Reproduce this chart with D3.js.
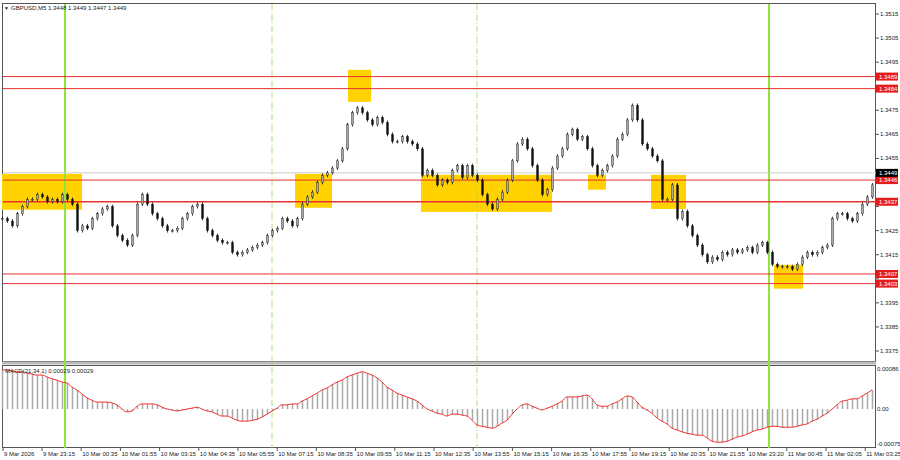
<!DOCTYPE html>
<html><head><meta charset="utf-8">
<script src="https://cdn.jsdelivr.net/npm/d3@7"></script>
<style>
body{margin:0;background:#fff;}
text{font-family:"Liberation Sans",Arial,sans-serif;font-size:6px;fill:#222;}
</style></head>
<body><svg id="chart" width="900" height="460"></svg>
<script>
// closes, one every 5px column
const closes = [1.3430,1.3429,1.3427,1.3432,1.3435,1.3438,1.3438,1.3440,1.3439,1.3437,1.3438,1.3437,1.3440,1.3438,1.3436,1.3425,1.3427,1.3426,1.3430,1.3432,
1.3434,1.3435,1.3427,1.3423,1.3421,1.3419,1.3423,1.3436,1.3440,1.3436,1.3432,1.3430,1.3427,1.3425,1.3425,1.3426,1.3430,1.3432,1.3435,1.3436,
1.3430,1.3425,1.3423,1.3421,1.3420,1.3420,1.3416,1.3415,1.3416,1.3417,1.3418,1.3419,1.3420,1.3423,1.3425,1.3426,1.3430,1.3429,1.3427,1.3430,
1.3436,1.3439,1.3441,1.3445,1.3448,1.3449,1.3451,1.3454,1.3459,1.3469,1.3474,1.3476,1.3474,1.3471,1.3469,1.3472,1.3470,1.3465,1.3462,1.3462,
1.3464,1.3462,1.3461,1.3459,1.3448,1.3450,1.3448,1.3444,1.3446,1.3445,1.3450,1.3452,1.3447,1.3452,1.3448,1.3446,1.3440,1.3436,1.3434,1.3438,
1.3441,1.3446,1.3454,1.3461,1.3463,1.3459,1.3452,1.3446,1.3440,1.3442,1.3451,1.3456,1.3459,1.3465,1.3467,1.3463,1.3464,1.3459,1.3452,1.3448,
1.3450,1.3452,1.3456,1.3463,1.3465,1.3471,1.3477,1.3471,1.3461,1.3459,1.3456,1.3454,1.3438,1.3438,1.3444,1.3430,1.3433,1.3427,1.3423,1.3419,
1.3415,1.3412,1.3414,1.3413,1.3416,1.3415,1.3417,1.3416,1.3417,1.3418,1.3416,1.3419,1.3420,1.3416,1.3411,1.3410,1.3410,1.3410,1.3409,1.3411,
1.3414,1.3416,1.3415,1.3416,1.3418,1.3419,1.3430,1.3432,1.3432,1.3430,1.3429,1.3432,1.3436,1.3439,1.3444];
// MACD main, in 1e-5
const macd = [84,84,82,80,80,77,75,73,73,69,65,62,58,56,47,41,32,24,19,15,
15,15,13,9,0,-6,-4,6,11,11,11,9,4,0,-2,-4,-2,0,2,4,
0,-4,-6,-11,-15,-15,-19,-24,-26,-26,-24,-22,-17,-11,-4,2,9,9,11,11,
17,22,28,34,41,45,52,58,62,69,73,77,80,77,73,67,58,47,41,34,
30,26,22,17,9,0,-4,-9,-11,-15,-11,-11,-13,-15,-24,-34,-37,-39,-41,-37,
-30,-24,-11,0,9,11,6,2,-2,2,6,11,17,26,26,26,28,30,22,9,
6,6,11,15,22,28,26,15,4,-2,-9,-19,-26,-32,-41,-45,-49,-52,-54,-56,
-56,-62,-69,-71,-71,-69,-65,-60,-58,-54,-49,-45,-43,-39,-37,-37,-39,-39,-39,-37,
-34,-32,-26,-22,-15,-9,0,9,17,19,22,22,28,34,41];
const levels = [1.3489,1.3484,1.3446,1.3437,1.3407,1.3403];
const lastPrice = 1.3449;
const priceTicks = [1.3515,1.3505,1.3495,1.3485,1.3475,1.3465,1.3455,1.3445,1.3435,1.3425,1.3415,1.3405,1.3395,1.3385,1.3375];
// zones: [startIdx, endIdx, top price, bottom price]
const zones = [[0,16,1.34486,1.34337],[58.6,66,1.34486,1.34345],[69.2,73.8,1.34918,1.34785],
  [83.8,110,1.34482,1.34328],[117.2,120.8,1.34482,1.3442],[129.8,136.8,1.34482,1.3434],[154.4,160.2,1.34108,1.34009]];
const greenLines = [12.6,153.4];
const dashLines = [54,95];
const timeLabels = ["9 Mar 2026","9 Mar 23:15","10 Mar 00:35","10 Mar 01:55","10 Mar 03:15","10 Mar 04:35","10 Mar 05:55","10 Mar 07:15",
"10 Mar 08:35","10 Mar 09:55","10 Mar 11:15","10 Mar 12:35","10 Mar 13:55","10 Mar 15:15","10 Mar 16:35","10 Mar 17:55","10 Mar 19:15",
"10 Mar 20:35","10 Mar 21:55","10 Mar 23:20","11 Mar 00:45","11 Mar 02:05","11 Mar 03:25"];
const tickIdx = timeLabels.map((d,k)=>k===0?0.2:8+(k-1)*7.84);

const svg = d3.select("#chart");
const x = d3.scaleLinear().domain([0,175]).range([2,877]);
const y = d3.scaleLinear().domain([1.3375,1.3515]).range([351,14]);
const ym = d3.scaleLinear().domain([-75,86]).range([444,369]);

// frames
svg.append("rect").attr("x",2.5).attr("y",3.5).attr("width",873).attr("height",358).attr("fill","none").attr("stroke","#555");
svg.append("rect").attr("x",2.5).attr("y",365.5).attr("width",873).attr("height",82).attr("fill","none").attr("stroke","#555");
svg.append("rect").attr("x",2).attr("y",361.5).attr("width",874).attr("height",3).attr("fill","#bbb");

// zones
svg.selectAll(".zone").data(zones).enter().append("rect")
  .attr("x",d=>x(d[0])).attr("width",d=>x(d[1])-x(d[0]))
  .attr("y",d=>y(d[2])).attr("height",d=>y(d[3])-y(d[2]))
  .attr("fill","#ffd200");

// vertical lines
greenLines.forEach(g=>{
  svg.append("line").attr("x1",x(g)).attr("x2",x(g)).attr("y1",4).attr("y2",448).attr("stroke","#8ee53f").attr("stroke-width",2);
});
dashLines.forEach(g=>{
  svg.append("line").attr("x1",x(g)).attr("x2",x(g)).attr("y1",4).attr("y2",448).attr("stroke","#9ad86a").attr("stroke-width",0.8).attr("stroke-dasharray","6,2,1,2");
});

// current price line
svg.append("line").attr("x1",3).attr("x2",876).attr("y1",y(lastPrice)).attr("y2",y(lastPrice)).attr("stroke","#ccc");

// levels
svg.selectAll(".lvl").data(levels).enter().append("line")
  .attr("x1",3).attr("x2",876).attr("y1",d=>y(d)).attr("y2",d=>y(d))
  .attr("stroke","#e83030").attr("stroke-width",d=>d===1.3437?1.4:1);

// candles
const bars = closes.map((c,i)=>({i:i,o:i?closes[i-1]:c,c:c}));
const cg = svg.append("g");
bars.forEach(b=>{
  const hi = Math.max(b.o,b.c)+0.00008, lo = Math.min(b.o,b.c)-0.00008;
  const col = b.c>=b.o ? "#aaa" : "#111";
  cg.append("line").attr("x1",x(b.i)+0.5).attr("x2",x(b.i)+0.5).attr("y1",y(hi)).attr("y2",y(lo)).attr("stroke","#111").attr("stroke-width",0.8);
  cg.append("rect").attr("x",x(b.i)-0.5).attr("width",2)
    .attr("y",y(Math.max(b.o,b.c))).attr("height",Math.max(1,Math.abs(y(b.o)-y(b.c))))
    .attr("fill",col).attr("stroke","#111").attr("stroke-width",0.4);
});

// price axis
const labs = levels.map(v=>({v:v,bg:"#e51c1c"})).concat([{v:lastPrice,bg:"#000"}]);
const shown = priceTicks.filter(t=>labs.every(l=>Math.abs(y(l.v)-y(t))>8));
svg.selectAll(".pt").data(shown).enter().append("text")
  .attr("x",880).attr("y",d=>y(d)+2).text(d=>d.toFixed(4));
svg.selectAll(".ptk").data(priceTicks).enter().append("line")
  .attr("x1",876).attr("x2",879).attr("y1",d=>y(d)).attr("y2",d=>y(d)).attr("stroke","#555");
labs.forEach(l=>{
  svg.append("rect").attr("x",876).attr("y",y(l.v)-4).attr("width",22).attr("height",8).attr("fill",l.bg);
  svg.append("text").attr("x",879).attr("y",y(l.v)+2).style("fill","#fff").text(l.v.toFixed(4));
});

// header
svg.append("text").attr("x",4).attr("y",10).style("font-size","5px").text("\u25BC");
svg.append("text").attr("x",11).attr("y",10).text("GBPUSD,M5  1.3448 1.3449 1.3447 1.3449");

// MACD histogram + signal
svg.append("g").selectAll("line").data(macd).enter().append("line")
  .attr("x1",(d,i)=>x(i)+0.5).attr("x2",(d,i)=>x(i)+0.5).attr("y1",ym(0)).attr("y2",d=>ym(d))
  .attr("stroke","#aaa").attr("stroke-width",1.5);
svg.append("path").datum(macd)
  .attr("d",d3.line().x((d,i)=>x(i)).y(d=>ym(d)).curve(d3.curveMonotoneX))
  .attr("fill","none").attr("stroke","#f03030").attr("stroke-width",1);
svg.append("text").attr("x",5).attr("y",373).text("MACD(21,34,1) 0.00029 0.00029");
[[86,"0.00086"],[0,"0.00"],[-75,"-0.00075"]].forEach(t=>{
  svg.append("text").attr("x",877).attr("y",ym(t[0])+2).text(t[1]);
});

// time axis
svg.selectAll(".tl").data(timeLabels).enter().append("text")
  .attr("x",(d,i)=>x(tickIdx[i])+1).attr("y",456).text(d=>d);
svg.selectAll(".tk").data(tickIdx).enter().append("line")
  .attr("x1",d=>x(d)).attr("x2",d=>x(d)).attr("y1",448).attr("y2",451).attr("stroke","#555");
</script></body></html>
